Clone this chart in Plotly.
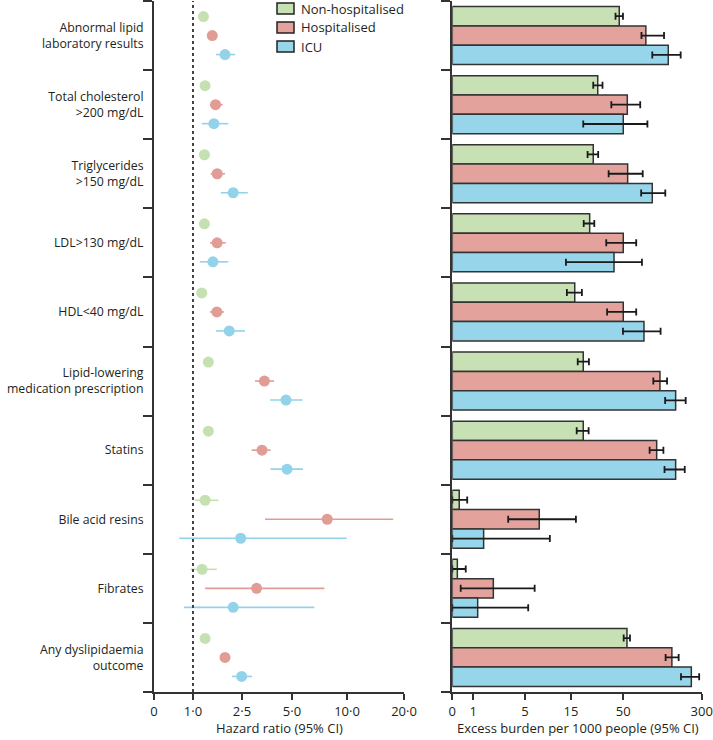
import numpy as np
import plotly.graph_objects as go

# ---------------- data ----------------
CATEGORIES = [
    "Abnormal lipid<br>laboratory results",
    "Total cholesterol<br>&gt;200 mg/dL",
    "Triglycerides<br>&gt;150 mg/dL",
    "LDL&gt;130 mg/dL",
    "HDL&lt;40 mg/dL",
    "Lipid-lowering<br>medication prescription",
    "Statins",
    "Bile acid resins",
    "Fibrates",
    "Any dyslipidaemia<br>outcome",
]
SERIES = ["Non-hospitalised", "Hospitalised", "ICU"]

# Hazard ratios (point, lower, upper)
HR_NONHOSP = [1.32, 1.37, 1.35, 1.35, 1.27, 1.47, 1.47, 1.37, 1.28, 1.37]
HR_NONHOSP_LO = [1.27, 1.32, 1.30, 1.30, 1.22, 1.42, 1.42, 1.06, 0.94, 1.33]
HR_NONHOSP_HI = [1.37, 1.42, 1.40, 1.40, 1.32, 1.52, 1.52, 1.78, 1.73, 1.41]

HR_HOSP = [1.59, 1.69, 1.74, 1.74, 1.73, 3.62, 3.50, 8.20, 3.23, 1.98]
HR_HOSP_LO = [1.50, 1.52, 1.54, 1.52, 1.52, 3.15, 2.98, 3.65, 1.37, 1.88]
HR_HOSP_HI = [1.68, 1.91, 1.98, 2.00, 1.95, 4.10, 3.93, 18.1, 7.94, 2.08]

HR_ICU = [1.98, 1.64, 2.23, 1.61, 2.11, 4.70, 4.75, 2.46, 2.23, 2.49]
HR_ICU_LO = [1.70, 1.27, 1.85, 1.21, 1.70, 3.90, 3.93, 0.65, 0.77, 2.19]
HR_ICU_HI = [2.29, 2.08, 2.79, 2.08, 2.65, 5.97, 6.00, 9.97, 7.03, 3.00]

# Excess burden per 1000 people (point, lower, upper)
EB_NONHOSP = [47.3, 32.9, 29.9, 27.5, 17.5, 23.2, 23.2, 0.33, 0.24, 61.8]
EB_NONHOSP_LO = [44.8, 29.9, 26.1, 23.5, 14.1, 19.5, 18.8, 0.0, 0.0, 51.3]
EB_NONHOSP_HI = [49.8, 36.1, 33.2, 30.6, 22.3, 27.0, 26.8, 0.71, 0.64, 71.4]

EB_HOSP = [122, 62.8, 64, 50, 50, 167, 156.5, 8.1, 2.55, 205]
EB_HOSP_LO = [108, 42, 40.2, 38.6, 39.2, 145.8, 134, 3.7, 0.4, 185]
EB_HOSP_HI = [180, 104, 112, 91.3, 91.3, 189.6, 178, 18.3, 7.1, 226.6]

EB_ICU = [193.5, 50, 142.5, 43.8, 116, 217, 217, 1.8, 1.34, 267]
EB_ICU_LO = [142.5, 23.2, 107, 13.9, 49.8, 183.5, 181.5, 0.0, 0.0, 234]
EB_ICU_HI = [233, 127, 184, 109.6, 169, 249, 246, 10.4, 5.7, 292]

# axis scales (piecewise, ticks as drawn in the original)
HR_TICKS = [0, 1, 2.5, 5, 10, 20]
HR_TICK_TEXT = ["0", "1·0", "2·5", "5·0", "10·0", "20·0"]
HR_SCALE = [0, 0.156, 0.352, 0.552, 0.772, 1.0]

EB_TICKS = [0, 1, 5, 15, 50, 300]
EB_TICK_TEXT = ["0", "1", "5", "15", "50", "300"]
EB_SCALE = [0, 0.0842, 0.2915, 0.476, 0.6856, 1.0]

COLORS = ["#c8e1b4", "#e3a39c", "#96d5ea"]
DOT_COLORS = ["#c6e1b1", "#e29c96", "#92d3ea"]


def hr_pos(v):
    return np.interp(np.asarray(v, dtype=float), HR_TICKS, HR_SCALE)


def eb_pos(v):
    return np.interp(np.asarray(v, dtype=float), EB_TICKS, EB_SCALE)


W, H = 713, 740
ML, MR, MT, MB = 0, 0, 1, 48
PW, PH = W - ML - MR, H - MT - MB


def px_x(p):
    return (p - ML) / PW


def px_y(p):
    return 1 - (p - MT) / PH


idx = np.arange(len(CATEGORIES))
offsets = [-0.275, 0.0, 0.275]

fig = go.Figure()

hr_sets = [
    (HR_NONHOSP, HR_NONHOSP_LO, HR_NONHOSP_HI),
    (HR_HOSP, HR_HOSP_LO, HR_HOSP_HI),
    (HR_ICU, HR_ICU_LO, HR_ICU_HI),
]
for k, (v, lo, hi) in enumerate(hr_sets):
    pv, pl, ph = hr_pos(v), hr_pos(lo), hr_pos(hi)
    fig.add_trace(go.Scatter(
        x=pv, y=idx + offsets[k], mode="markers", name=SERIES[k],
        showlegend=False,
        marker=dict(size=11, color=DOT_COLORS[k], line=dict(width=0)),
        error_x=dict(type="data", symmetric=False, array=ph - pv,
                     arrayminus=pv - pl, color=DOT_COLORS[k],
                     thickness=1.6, width=0),
        xaxis="x", yaxis="y",
    ))

eb_sets = [
    (EB_NONHOSP, EB_NONHOSP_LO, EB_NONHOSP_HI),
    (EB_HOSP, EB_HOSP_LO, EB_HOSP_HI),
    (EB_ICU, EB_ICU_LO, EB_ICU_HI),
]
for k, (v, lo, hi) in enumerate(eb_sets):
    pv, pl, ph = eb_pos(v), eb_pos(lo), eb_pos(hi)
    fig.add_trace(go.Bar(
        x=pv, y=idx, orientation="h", name=SERIES[k], showlegend=False,
        marker=dict(color=COLORS[k], line=dict(color="#333333", width=1.5)),
        error_x=dict(type="data", symmetric=False, array=ph - pv,
                     arrayminus=pv - pl, color="#1a1a1a",
                     thickness=1.8, width=3.5),
        xaxis="x2", yaxis="y2",
    ))

minor_vals = [i - 0.5 for i in range(len(CATEGORIES) + 1)]
yrange = [len(CATEGORIES) - 0.5, -0.5]
axis_col = "#333333"

fig.update_layout(
    width=W, height=H,
    margin=dict(l=ML, r=MR, t=MT, b=MB, autoexpand=False),
    paper_bgcolor="white", plot_bgcolor="white",
    font=dict(family="Open Sans", size=13, color="#231f20"),
    barmode="group", bargap=0.16, bargroupgap=0,
    xaxis=dict(
        domain=[px_x(154), px_x(404)], range=[0, 1], anchor="y",
        tickvals=list(hr_pos(HR_TICKS)), ticktext=HR_TICK_TEXT,
        ticks="outside", ticklen=6, tickwidth=1.5, tickcolor=axis_col,
        showline=True, linecolor=axis_col, linewidth=2,
        showgrid=False, zeroline=False, automargin=False,
        ticklabeloverflow="allow",
    ),
    xaxis2=dict(
        domain=[px_x(452.3), px_x(701.7)], range=[0, 1.0001], anchor="y2",
        tickvals=list(eb_pos(EB_TICKS)), ticktext=EB_TICK_TEXT,
        ticks="outside", ticklen=6, tickwidth=1.5, tickcolor=axis_col,
        showline=True, linecolor=axis_col, linewidth=2,
        showgrid=False, zeroline=False, automargin=False,
        ticklabeloverflow="allow",
    ),
    yaxis=dict(
        domain=[0, 1], range=yrange, anchor="x",
        tickvals=list(idx), ticktext=CATEGORIES, ticks="",
        ticklabelstandoff=6, automargin=False,
        tickfont=dict(size=12.3),
        ticklabeloverflow="allow",
        showline=True, linecolor=axis_col, linewidth=2,
        showgrid=False, zeroline=False,
        minor=dict(tickvals=minor_vals, ticks="outside", ticklen=9,
                   tickwidth=2, tickcolor=axis_col, showgrid=False),
    ),
    yaxis2=dict(
        domain=[0, 1], range=yrange, anchor="x2",
        showticklabels=False, ticks="", automargin=False,
        showline=True, linecolor=axis_col, linewidth=2,
        showgrid=False, zeroline=False,
        minor=dict(tickvals=minor_vals, ticks="outside", ticklen=9,
                   tickwidth=2, tickcolor=axis_col, showgrid=False),
    ),
)

# axis titles
fig.add_annotation(x=px_x(279), y=px_y(728), xref="paper", yref="paper",
                   text="Hazard ratio (95% CI)", showarrow=False,
                   xanchor="center", yanchor="middle")
fig.add_annotation(x=px_x(578), y=px_y(728), xref="paper", yref="paper",
                   text="Excess burden per 1000 people (95% CI)",
                   showarrow=False, xanchor="center", yanchor="middle")

# reference line at HR = 1
fig.add_shape(type="line", xref="x", yref="paper",
              x0=float(hr_pos(1)), x1=float(hr_pos(1)), y0=0, y1=1,
              line=dict(color="#444444", width=2, dash="3px,3px"))

# legend (drawn as boxes + labels)
legend_rows = [8.5, 27.5, 46.5]
for k, name in enumerate(SERIES):
    yc = legend_rows[k]
    fig.add_shape(type="rect", xref="paper", yref="paper",
                  x0=px_x(277), x1=px_x(294),
                  y0=px_y(yc + 5.5), y1=px_y(yc - 5.5),
                  fillcolor=COLORS[k], line=dict(color="#222222", width=1.5))
    fig.add_annotation(x=px_x(299), y=px_y(yc), xref="paper", yref="paper",
                       text=name, showarrow=False, xanchor="left",
                       yanchor="middle", font=dict(size=13))

fig.write_html("out.html",
               config={"displayModeBar": False},
               post_script="document.body.style.margin='0px';")
